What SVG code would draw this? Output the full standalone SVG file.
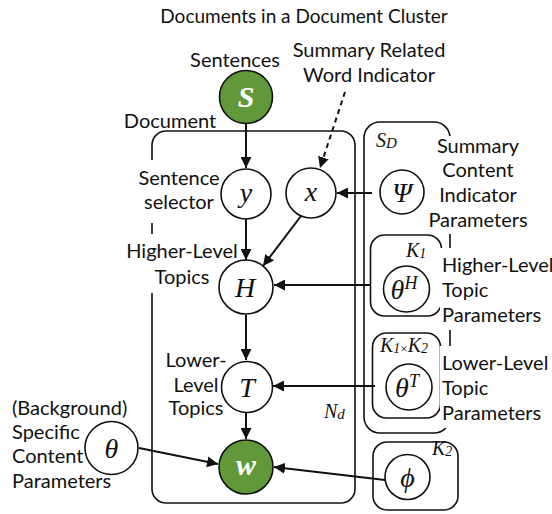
<svg xmlns="http://www.w3.org/2000/svg" width="552" height="514" viewBox="0 0 552 514">
<style>
.lbl{font-family:Lato,"Open Sans",sans-serif;font-size:20px;fill:#111}
.mid{text-anchor:middle}
.plate{fill:none;stroke:#111;stroke-width:1.6}
.bg{fill:#fff;stroke:none}
.node{fill:#fff;stroke:#111;stroke-width:1.6}
.obs{fill:#61993a;stroke:#111;stroke-width:1.6}
.sym{font-family:"Liberation Serif","DejaVu Serif",serif;font-style:italic;font-size:28px;fill:#111;text-anchor:middle}
.wsym{font-family:"Liberation Serif","DejaVu Serif",serif;font-style:italic;font-weight:bold;font-size:30px;fill:#fff;text-anchor:middle}
.pl{font-family:"Liberation Serif","DejaVu Serif",serif;font-style:italic;font-size:20px;fill:#111}
.edge{stroke:#111;stroke-width:2;fill:none}
</style>
<defs>
<marker id="ah" viewBox="0 0 10 10" refX="10" refY="5" markerWidth="5.5" markerHeight="5.5" orient="auto" markerUnits="strokeWidth">
<path d="M0,0 L10,5 L0,10 z" fill="#111"/>
</marker>
</defs>

<text class="lbl mid" x="304" y="23" style="font-size:19px">Documents in a Document Cluster</text>

<g id="plates">
<rect id="plate-document" class="plate" x="152" y="131" width="203" height="372" rx="14"/>
<rect id="plate-SD" class="plate" x="364" y="122" width="86" height="311" rx="16"/>
<rect id="plate-K1" class="plate" x="370.5" y="235" width="71" height="81" rx="14"/>
<rect id="plate-K1K2" class="plate" x="372.5" y="333" width="68" height="85" rx="14"/>
<rect id="plate-K2" class="plate" x="373" y="442" width="85" height="68" rx="14"/>
</g>

<g id="label-backgrounds">
<rect class="bg" x="136" y="160" width="82" height="63"/>
<rect class="bg" x="126" y="234" width="112" height="59"/>
<rect class="bg" x="428" y="136" width="100" height="98"/>
<rect class="bg" x="440" y="248" width="112" height="82"/>
<rect class="bg" x="440" y="346" width="112" height="82"/>
</g>

<g id="labels">
<text class="lbl mid" x="235" y="67">Sentences</text>
<text class="lbl mid" x="369" y="57">Summary Related</text>
<text class="lbl mid" x="369" y="82">Word Indicator</text>
<text class="lbl mid" x="170" y="128">Document</text>
<text class="lbl mid" x="179" y="185">Sentence</text>
<text class="lbl mid" x="179" y="209">selector</text>
<text class="lbl mid" x="182" y="258">Higher-Level</text>
<text class="lbl mid" x="182" y="284">Topics</text>
<text class="lbl mid" x="196" y="367">Lower-</text>
<text class="lbl mid" x="196" y="392">Level</text>
<text class="lbl mid" x="196" y="415">Topics</text>
<text class="lbl" x="12" y="415">(Background)</text>
<text class="lbl" x="12" y="439">Specific</text>
<text class="lbl" x="12" y="463">Content</text>
<text class="lbl" x="12" y="488">Parameters</text>
<text class="lbl mid" x="478" y="153">Summary</text>
<text class="lbl mid" x="478" y="177">Content</text>
<text class="lbl mid" x="478" y="202">Indicator</text>
<text class="lbl mid" x="478" y="227">Parameters</text>
<text class="lbl" x="442" y="272">Higher-Level</text>
<text class="lbl" x="442" y="297">Topic</text>
<text class="lbl" x="442" y="322">Parameters</text>
<text class="lbl" x="442" y="370">Lower-Level</text>
<text class="lbl" x="442" y="395">Topic</text>
<text class="lbl" x="442" y="420">Parameters</text>
<text class="pl" x="376" y="147">S<tspan font-size="15" dy="1">D</tspan></text>
<text class="pl" x="324" y="418">N<tspan font-size="15" dy="1">d</tspan></text>
<text class="pl" x="406" y="257">K<tspan font-size="14" dy="1">1</tspan></text>
<text class="pl" x="380" y="352">K<tspan font-size="14" dy="1">1</tspan><tspan font-style="normal" font-size="13">×</tspan><tspan dy="-1">K</tspan><tspan font-size="14" dy="1">2</tspan></text>
<text class="pl" x="432" y="455">K<tspan font-size="14" dy="1">2</tspan></text>
</g>

<g id="connectors">
<line class="edge" x1="246" y1="123" x2="246" y2="168" marker-end="url(#ah)"/>
<line class="edge" x1="345" y1="92" x2="320" y2="168" stroke-dasharray="5,4" marker-end="url(#ah)"/>
<line class="edge" x1="246" y1="219" x2="246" y2="260" marker-end="url(#ah)"/>
<line class="edge" x1="301" y1="216" x2="263" y2="266" marker-end="url(#ah)"/>
<line class="edge" x1="372" y1="193" x2="337" y2="193" marker-end="url(#ah)"/>
<line class="edge" x1="371" y1="285" x2="274" y2="285" marker-end="url(#ah)"/>
<line class="edge" x1="246" y1="315" x2="246" y2="360" marker-end="url(#ah)"/>
<line class="edge" x1="375" y1="386" x2="273" y2="386" marker-end="url(#ah)"/>
<line class="edge" x1="246" y1="413" x2="246" y2="439" marker-end="url(#ah)"/>
<line class="edge" x1="139" y1="448" x2="218" y2="464" marker-end="url(#ah)"/>
<line class="edge" x1="385" y1="480" x2="274" y2="467" marker-end="url(#ah)"/>
</g>

<g id="node-S"><circle class="obs" cx="246" cy="97" r="26.5"/><text class="wsym" x="246" y="107">S</text></g>
<g id="node-y"><circle class="node" cx="246" cy="194" r="25"/><text class="sym" x="246" y="202">y</text></g>
<g id="node-x"><circle class="node" cx="311" cy="193" r="25"/><text class="sym" x="311" y="201">x</text></g>
<g id="node-H"><circle class="node" cx="246" cy="287" r="27"/><text class="sym" x="245" y="297">H</text></g>
<g id="node-T"><circle class="node" cx="247" cy="387" r="25.5"/><text class="sym" x="247" y="397">T</text></g>
<g id="node-w"><circle class="obs" cx="246" cy="467" r="27"/><text class="wsym" x="246" y="475">w</text></g>
<g id="node-theta"><circle class="node" cx="111.5" cy="448" r="26.5"/><text class="sym" x="111.5" y="458" font-size="30">θ</text></g>
<g id="node-Psi"><circle class="node" cx="402" cy="192" r="22"/><text class="sym" x="402" y="202">Ψ</text></g>
<g id="node-thetaH"><circle class="node" cx="406.5" cy="289" r="23"/><text class="sym" x="404" y="299">θ<tspan font-size="18" dy="-10">H</tspan></text></g>
<g id="node-thetaT"><circle class="node" cx="409" cy="387" r="23"/><text class="sym" x="407" y="397">θ<tspan font-size="18" dy="-10">T</tspan></text></g>
<g id="node-phi"><circle class="node" cx="407.5" cy="477" r="22.5"/><text class="sym" x="407.5" y="487" font-size="30">ϕ</text></g>
</svg>
